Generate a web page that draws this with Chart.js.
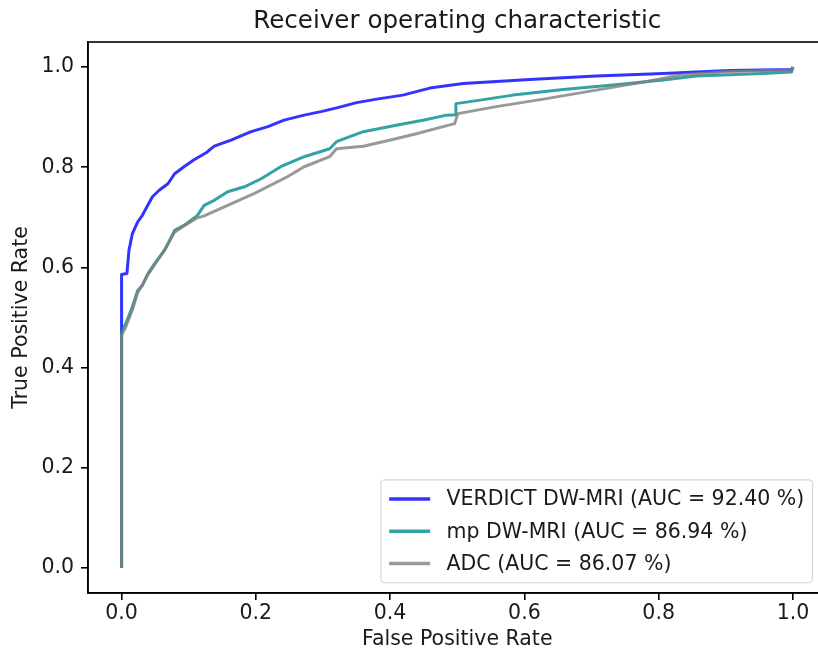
<!DOCTYPE html>
<html>
<head>
<meta charset="utf-8">
<script src="https://cdn.jsdelivr.net/npm/chart.js@4/dist/chart.umd.min.js"></script>
<style>
  html, body { margin: 0; padding: 0; background: #fff; overflow: hidden; }
  #wrap { width: 830px; height: 653px; }
</style>
</head>
<body>
<div id="wrap"><canvas id="roc" width="830" height="653"></canvas></div>
<script>
// tick labels for both axes
const tickValues = [0.0, 0.2, 0.4, 0.6, 0.8, 1.0];

// series names
const seriesNames = [
    'VERDICT DW-MRI (AUC = 92.40 %)',
    'mp DW-MRI (AUC = 86.94 %)',
    'ADC (AUC = 86.07 %)'
];

// VERDICT DW-MRI
const verdictFpr = [0, 0, 0.008, 0.011, 0.016, 0.024, 0.031, 0.039, 0.046, 0.056, 0.069, 0.079, 0.093, 0.108, 0.126, 0.138, 0.163, 0.193, 0.218, 0.242, 0.272, 0.297, 0.322, 0.35, 0.38, 0.419, 0.459, 0.509, 0.608, 0.707, 0.807, 0.906, 0.998, 1.0];
const verdictTpr = [0, 0.586, 0.588, 0.634, 0.667, 0.691, 0.704, 0.724, 0.741, 0.754, 0.767, 0.787, 0.801, 0.815, 0.829, 0.842, 0.854, 0.871, 0.881, 0.894, 0.904, 0.911, 0.919, 0.929, 0.936, 0.944, 0.958, 0.967, 0.975, 0.982, 0.987, 0.993, 0.995, 1.0];

// mp DW-MRI
const mpFpr = [0, 0, 0.006, 0.016, 0.024, 0.031, 0.039, 0.049, 0.064, 0.079, 0.093, 0.113, 0.123, 0.138, 0.158, 0.183, 0.208, 0.237, 0.272, 0.31, 0.32, 0.36, 0.409, 0.449, 0.484, 0.498, 0.498, 0.534, 0.583, 0.658, 0.732, 0.807, 0.856, 0.956, 0.998, 1.0];
const mpTpr = [0, 0.471, 0.487, 0.521, 0.554, 0.564, 0.587, 0.607, 0.634, 0.674, 0.684, 0.704, 0.724, 0.734, 0.751, 0.761, 0.777, 0.801, 0.821, 0.837, 0.851, 0.871, 0.884, 0.894, 0.904, 0.905, 0.927, 0.934, 0.944, 0.955, 0.964, 0.974, 0.982, 0.987, 0.99, 1.0];

// ADC
const adcFpr = [0, 0, 0.006, 0.016, 0.024, 0.031, 0.039, 0.049, 0.064, 0.079, 0.093, 0.113, 0.123, 0.158, 0.198, 0.247, 0.272, 0.31, 0.32, 0.36, 0.399, 0.439, 0.496, 0.501, 0.558, 0.633, 0.707, 0.782, 0.832, 0.906, 0.998, 1.0];
const adcTpr = [0, 0.465, 0.48, 0.515, 0.55, 0.565, 0.585, 0.605, 0.635, 0.67, 0.683, 0.699, 0.703, 0.724, 0.748, 0.781, 0.801, 0.821, 0.837, 0.842, 0.854, 0.867, 0.887, 0.907, 0.921, 0.937, 0.954, 0.971, 0.984, 0.991, 0.994, 1.0];

const FONT = "'DejaVu Sans', sans-serif";

function toPoints(xs, ys) {
    return xs.map((x, i) => ({ x: x, y: ys[i] }));
}

function makeSet(label, xs, ys, color, order) {
    return {
        label: label,
        data: toPoints(xs, ys),
        borderColor: color,
        backgroundColor: color,
        borderWidth: 3,
        pointRadius: 0,
        showLine: true,
        borderJoinStyle: 'round',
        tension: 0,
        order: order
    };
}

// matplotlib style frame + legend box in the lower right
const framePlugin = {
    id: 'frame',
    afterDraw(chart) {
        const ctx = chart.ctx;
        const a = chart.chartArea;
        ctx.save();
        ctx.strokeStyle = '#000';
        ctx.lineWidth = 1.6;
        ctx.strokeRect(a.left, a.top, a.right - a.left, a.bottom - a.top);

        // legend
        const fs = 20.5;
        ctx.font = fs + 'px ' + FONT;
        const sets = chart.data.datasets;
        let textW = 0;
        sets.forEach(d => { textW = Math.max(textW, ctx.measureText(d.label).width); });
        const pad = 0.4 * fs, rowH = 22, gap = 0.5 * fs;
        const handleLen = 2 * fs, handlePad = 0.8 * fs;
        const boxW = pad * 2 + handleLen + handlePad + textW;
        const boxH = pad * 2 + rowH * sets.length + gap * (sets.length - 1);
        const bx = a.right - 14 - boxW;
        const by = a.bottom - 0.5 * fs - boxH;
        ctx.beginPath();
        ctx.roundRect(bx, by, boxW, boxH, 4);
        ctx.fillStyle = 'rgba(255,255,255,0.8)';
        ctx.fill();
        ctx.strokeStyle = 'rgba(204,204,204,0.8)';
        ctx.lineWidth = 1.2;
        ctx.stroke();
        sets.forEach((d, i) => {
            const cy = by + pad + rowH * i + gap * i + rowH / 2;
            ctx.beginPath();
            ctx.moveTo(bx + pad, cy);
            ctx.lineTo(bx + pad + handleLen, cy);
            ctx.strokeStyle = d.borderColor;
            ctx.lineWidth = 3.5;
            ctx.stroke();
            ctx.fillStyle = '#1a1a1a';
            ctx.textBaseline = 'middle';
            ctx.textAlign = 'left';
            ctx.fillText(d.label, bx + pad + handleLen + handlePad, cy + 1);
        });
        ctx.restore();
    }
};

const tickFont = { family: FONT, size: 20.5 };

new Chart(document.getElementById('roc'), {
    type: 'scatter',
    data: {
        datasets: [
            makeSet(seriesNames[0], verdictFpr, verdictTpr, 'rgba(0,0,255,0.8)', 3),
            makeSet(seriesNames[1], mpFpr, mpTpr, 'rgba(0,139,139,0.8)', 2),
            makeSet(seriesNames[2], adcFpr, adcTpr, 'rgba(128,128,128,0.8)', 1)
        ]
    },
    options: {
        responsive: false,
        animation: false,
        devicePixelRatio: 1,
        layout: { padding: { left: 0, right: 3.5, top: 0, bottom: 0 } },
        plugins: {
            legend: { display: false },
            tooltip: { enabled: false },
            title: {
                display: true,
                text: 'Receiver operating characteristic',
                fullSize: false,
                color: '#1a1a1a',
                font: { family: FONT, size: 24.6, weight: 'normal' },
                padding: { top: 7, bottom: 5.5 }
            }
        },
        scales: {
            x: {
                type: 'linear',
                min: -0.05,
                max: 1.05,
                afterBuildTicks: s => { s.ticks = tickValues.map(v => ({ value: v })); },
                afterFit: s => { s.height = 60; },
                ticks: {
                    color: '#1a1a1a',
                    font: tickFont,
                    padding: 1,
                    maxRotation: 0,
                    callback: v => v.toFixed(1)
                },
                grid: { drawOnChartArea: false, drawTicks: true, tickLength: 7, color: '#000', lineWidth: 1.6 },
                border: { display: true, color: '#000', width: 1.6 },
                title: {
                    display: true,
                    text: 'False Positive Rate',
                    color: '#1a1a1a',
                    font: tickFont,
                    padding: { top: 0, bottom: 1.5 }
                }
            },
            y: {
                type: 'linear',
                min: -0.05,
                max: 1.05,
                afterBuildTicks: s => { s.ticks = tickValues.map(v => ({ value: v })); },
                afterFit: s => { s.width = 88; },
                ticks: {
                    color: '#1a1a1a',
                    font: tickFont,
                    padding: 7,
                    callback: v => v.toFixed(1)
                },
                grid: { drawOnChartArea: false, drawTicks: true, tickLength: 7, color: '#000', lineWidth: 1.6 },
                border: { display: true, color: '#000', width: 1.6 },
                title: {
                    display: true,
                    text: 'True Positive Rate',
                    color: '#1a1a1a',
                    font: tickFont,
                    padding: { top: 9, bottom: 0 }
                }
            }
        }
    },
    plugins: [framePlugin]
});
</script>
</body>
</html>
